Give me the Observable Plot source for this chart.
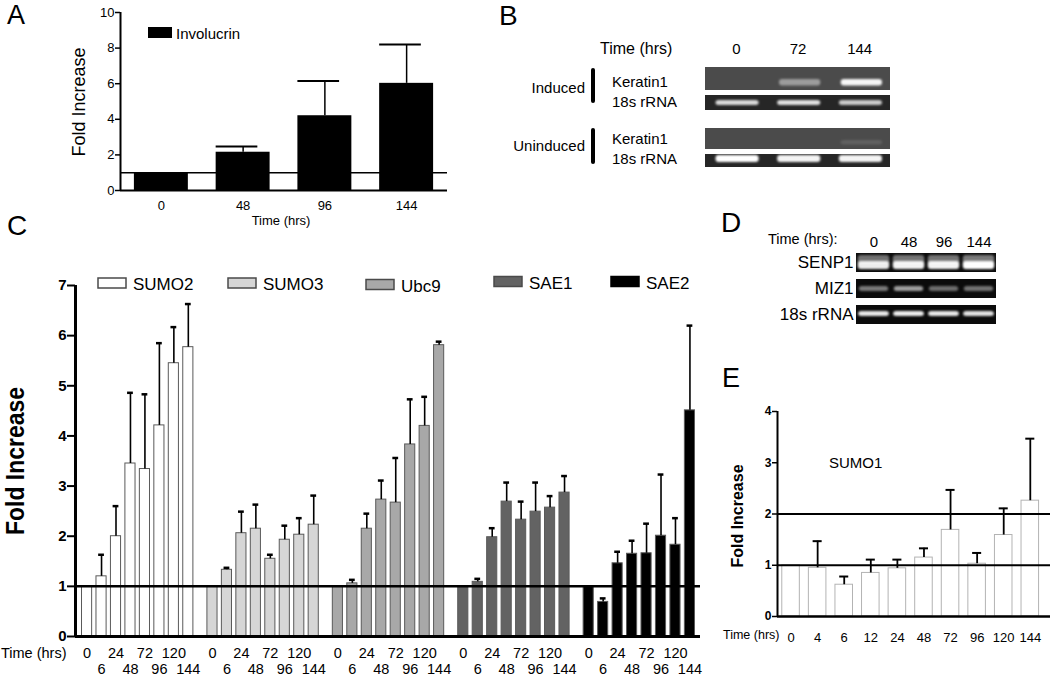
<!DOCTYPE html>
<html>
<head>
<meta charset="utf-8">
<script src="https://cdn.jsdelivr.net/npm/d3@7"></script>
<script src="https://cdn.jsdelivr.net/npm/@observablehq/plot@0.6"></script>
<style>
  body { margin: 0; background: #fff; }
  #page { position: relative; width: 1050px; height: 677px; overflow: hidden; background: #fff;
          font-family: "Liberation Sans", Arial, Helvetica, sans-serif; }
</style>
</head>
<body>
<div id="page"></div>
<script>
// ---------------- Panel A : Involucrin ----------------
const involucrinTimes = ["0", "48", "96", "144"];
const involucrinMean  = [1.0, 2.15, 4.2, 6.02];
const involucrinUpper = [null, 2.47, 6.15, 8.2];

// ---------------- Panel B : RT-PCR gel ----------------
const gelBLanes = ["0", "72", "144"];
const gelBRows = ["Keratin1", "18s rRNA"];
const inducedKeratin1   = [0.0, 0.45, 0.95];
const induced18s        = [0.82, 0.85, 0.75];
const uninducedKeratin1 = [0.0, 0.0, 0.12];
const uninduced18s      = [1.0, 0.95, 0.95];

// ---------------- Panel C : SUMO pathway genes ----------------
const sumoTimes = ["0", "6", "24", "48", "72", "96", "120", "144"];
const sumoGenes = ["SUMO2", "SUMO3", "Ubc9", "SAE1", "SAE2"];
const sumo2Mean  = [1.0, 1.2, 2.0, 3.45, 3.34, 4.21, 5.45, 5.77];
const sumo2Upper = [null, 1.63, 2.6, 4.86, 4.83, 5.85, 6.17, 6.63];
const sumo3Mean  = [1.0, 1.33, 2.06, 2.15, 1.55, 1.93, 2.03, 2.23];
const sumo3Upper = [null, 1.37, 2.49, 2.63, 1.63, 2.21, 2.36, 2.81];
const ubc9Mean   = [1.0, 1.06, 2.15, 2.73, 2.67, 3.83, 4.2, 5.81];
const ubc9Upper  = [null, 1.13, 2.45, 3.11, 3.56, 4.73, 4.78, 5.88];
const sae1Mean   = [1.0, 1.09, 1.98, 2.69, 2.33, 2.49, 2.57, 2.87];
const sae1Upper  = [null, 1.15, 2.16, 3.07, 2.69, 3.07, 2.8, 3.2];
const sae2Mean   = [1.0, 0.69, 1.46, 1.65, 1.66, 2.01, 1.83, 4.51];
const sae2Upper  = [null, 0.76, 1.69, 1.91, 2.25, 3.23, 2.36, 6.2];

// ---------------- Panel D : gel ----------------
const gelDLanes = ["0", "48", "96", "144"];
const gelDRows = ["SENP1", "MIZ1", "18s rRNA"];
const senp1Band = [0.92, 0.95, 0.95, 1.0];
const miz1Band  = [0.45, 0.6, 0.4, 0.42];
const rrnaDBand = [0.9, 0.92, 0.9, 0.88];

// ---------------- Panel E : SUMO1 ----------------
const sumo1Times = ["0", "4", "6", "12", "24", "48", "72", "96", "120", "144"];
const sumo1Mean  = [1.0, 0.95, 0.62, 0.85, 0.94, 1.15, 1.69, 1.03, 1.59, 2.26];
const sumo1Upper = [null, 1.47, 0.78, 1.11, 1.11, 1.33, 2.47, 1.24, 2.11, 3.47];

// ---------------- styling ----------------
const FONT = '"Liberation Sans", Arial, Helvetica, sans-serif';
const cFills = ["#ffffff", "#d6d6d6", "#a8a8a8", "#636363", "#000000"];
const baseStyle = {fontFamily: FONT, background: "transparent", overflow: "visible", color: "black"};
const page = document.getElementById("page");
const intFmt = d => String(d);
function place(svg, left, top) {
  svg.style.position = "absolute";
  svg.style.left = left + "px";
  svg.style.top = top + "px";
  svg.style.maxWidth = "none";
  svg.style.background = "transparent";
  svg.style.overflow = "visible";
  svg.style.fontFamily = FONT;
  page.appendChild(svg);
}

// ================= Panel A =================
const aRows = involucrinTimes.map((t, i) => ({t, i, mean: involucrinMean[i], upper: involucrinUpper[i]}));
const aErr = aRows.filter(d => d.upper != null);
const plotA = Plot.plot({
  width: 460, height: 230, marginLeft: 120, marginRight: 13, marginTop: 12, marginBottom: 40,
  style: baseStyle,
  x: {domain: [-0.5, involucrinTimes.length - 0.5], axis: null},
  y: {domain: [0, 10], axis: null},
  marks: [
    Plot.rect(aRows, {x1: d => d.i - 0.33, x2: d => d.i + 0.33, y1: 0, y2: "mean", fill: "black"}),
    Plot.ruleX(aErr, {x: "i", y1: "mean", y2: "upper", strokeWidth: 1.5}),
    Plot.ruleY(aErr, {x1: d => d.i - 0.33, x2: d => d.i + 0.18, y: "upper", strokeWidth: 2}),
    Plot.ruleY([1], {strokeWidth: 1.5}),
    Plot.ruleY([0], {strokeWidth: 2}),
    Plot.ruleX([-0.5], {y1: 0, y2: 10, strokeWidth: 2}),
    Plot.axisY({ticks: [0, 2, 4, 6, 8, 10], tickFormat: intFmt, label: null, tickSize: 5, tickPadding: 1, fontSize: 13, strokeWidth: 1.5}),
    Plot.axisX({ticks: aRows.map(d => d.i), tickFormat: i => involucrinTimes[i], label: null, tickSize: 0, tickPadding: 10, fontSize: 13})
  ]
});
place(plotA, 0, 0);

// ================= Panel B =================
function gelBData(k, r) {
  return gelBLanes.flatMap((l, li) => [
    {row: gelBRows[0], lane: li, intensity: k[li]},
    {row: gelBRows[1], lane: li, intensity: r[li]}
  ]);
}
function gelBPlot(data, showLanes, h, mt, mb, rInsetTop) {
  const marks = [
    Plot.barX([gelBRows[0]], {x1: 0, x2: gelBLanes.length, y: d => d, fill: "#4b4b4b", insetBottom: -3}),
    Plot.barX([gelBRows[1]], {x1: 0, x2: gelBLanes.length, y: d => d, fill: "#262626", insetTop: 5}),
    Plot.barX(data.filter(d => d.row === gelBRows[0]), {x1: d => d.lane + 0.2, x2: d => d.lane + 0.87, y: "row",
      fill: "white", fillOpacity: "intensity", insetTop: 12, insetBottom: 1.5, rx: 3, ariaDescription: "gel-band"}),
    Plot.barX(data.filter(d => d.row === gelBRows[1]), {x1: d => d.lane + 0.17, x2: d => d.lane + 0.87, y: "row",
      fill: "white", fillOpacity: "intensity", insetTop: rInsetTop, insetBottom: 5, rx: 3, ariaDescription: "gel-band"})
  ];
  if (showLanes) marks.push(Plot.axisX({anchor: "top", ticks: gelBLanes.map((_, i) => i + 0.5),
    tickFormat: v => gelBLanes[Math.floor(v)], label: null, tickSize: 0, tickPadding: 14, fontSize: 15}));
  return Plot.plot({
    width: 340, height: h, marginLeft: 145, marginRight: 10, marginTop: mt, marginBottom: mb,
    style: baseStyle,
    x: {domain: [0, gelBLanes.length], axis: null},
    y: {domain: gelBRows, paddingInner: 0.12, paddingOuter: 0, axis: null},
    opacity: {domain: [0, 1], range: [0, 1]},
    marks
  });
}
place(gelBPlot(gelBData(inducedKeratin1, induced18s), true, 80, 27, 9, 10), 560, 40);
place(gelBPlot(gelBData(uninducedKeratin1, uninduced18s), false, 50, 4, 6, 6), 560, 124);

// ================= Panel C =================
const cMeans = [sumo2Mean, sumo3Mean, ubc9Mean, sae1Mean, sae2Mean];
const cUppers = [sumo2Upper, sumo3Upper, ubc9Upper, sae1Upper, sae2Upper];
const GROUP_STEP = 8.67;
const cRows = sumoGenes.flatMap((g, gi) => sumoTimes.map((t, ti) => ({
  gene: g, time: t, ti, pos: gi * GROUP_STEP + ti, mean: cMeans[gi][ti], upper: cUppers[gi][ti]
})));
const cErr = cRows.filter(d => d.upper != null);
const cLabel = new Map(cRows.map(d => [d.pos, d.time]));
const cMax = (sumoGenes.length - 1) * GROUP_STEP + sumoTimes.length - 1;
const plotC = Plot.plot({
  width: 710, height: 407, marginLeft: 75, marginRight: 10, marginTop: 15, marginBottom: 41,
  style: baseStyle,
  x: {domain: [-0.8, cMax + 0.73], axis: null},
  y: {domain: [0, 7], axis: null},
  color: {domain: sumoGenes, range: cFills},
  marks: [
    Plot.rect(cRows, {x1: d => d.pos - 0.35, x2: d => d.pos + 0.35, y1: 0, y2: "mean", fill: "gene", stroke: "#5a5a5a", strokeWidth: 1}),
    Plot.ruleX(cErr, {x: "pos", y1: "mean", y2: "upper", strokeWidth: 1.6}),
    Plot.ruleY(cErr, {x1: d => d.pos - 0.2, x2: d => d.pos + 0.2, y: "upper", strokeWidth: 2.5}),
    Plot.ruleY([1], {strokeWidth: 2.5}),
    Plot.ruleY([0], {strokeWidth: 3}),
    Plot.ruleX([-0.8], {y1: 0, y2: 7, strokeWidth: 3}),
    Plot.axisY({ticks: d3.range(0, 8), tickFormat: intFmt, label: null, tickSize: 8, tickPadding: 1, fontSize: 15, fontWeight: "bold", strokeWidth: 2}),
    Plot.axisX({ticks: cRows.filter(d => d.ti % 2 === 0).map(d => d.pos), tickFormat: p => cLabel.get(p), label: null,
      tickSize: 0, tickPadding: 11.5, fontSize: 14.5}),
    Plot.axisX({ticks: cRows.filter(d => d.ti % 2 === 1).map(d => d.pos), tickFormat: p => cLabel.get(p), label: null,
      tickSize: 0, tickPadding: 27.5, fontSize: 14.5})
  ]
});
place(plotC, 0, 270);

// ================= Panel D =================
const dBands = [senp1Band, miz1Band, rrnaDBand];
const dData = gelDRows.flatMap((r, ri) => gelDLanes.map((l, li) => ({row: r, lane: li, intensity: dBands[ri][li]})));
const plotD = Plot.plot({
  width: 266, height: 102, marginLeft: 116, marginRight: 10, marginTop: 25, marginBottom: 5,
  style: baseStyle,
  x: {domain: [0, gelDLanes.length], axis: null},
  y: {domain: gelDRows, paddingInner: 0.26, paddingOuter: 0, axis: null},
  opacity: {domain: [0, 1], range: [0, 1]},
  marks: [
    Plot.barX(gelDRows, {x1: 0, x2: gelDLanes.length, y: d => d, fill: "#0b0b0b"}),
    Plot.barX(dData.filter(d => d.row === "SENP1"), {x1: d => d.lane + 0.05, x2: d => d.lane + 0.95, y: "row",
      fill: "white", fillOpacity: d => d.intensity * 0.45, insetTop: 2, insetBottom: 8, rx: 3, ariaDescription: "gel-band"}),
    Plot.barX(dData.filter(d => d.row === "SENP1"), {x1: d => d.lane + 0.05, x2: d => d.lane + 0.95, y: "row",
      fill: "white", fillOpacity: "intensity", insetTop: 8, insetBottom: 3, rx: 3, ariaDescription: "gel-band"}),
    Plot.barX(dData.filter(d => d.row === "MIZ1"), {x1: d => d.lane + 0.08, x2: d => d.lane + 0.92, y: "row",
      fill: "white", fillOpacity: "intensity", insetTop: 7, insetBottom: 7, rx: 3, ariaDescription: "gel-band"}),
    Plot.barX(dData.filter(d => d.row === "18s rRNA"), {x1: d => d.lane + 0.06, x2: d => d.lane + 0.94, y: "row",
      fill: "white", fillOpacity: "intensity", insetTop: 6, insetBottom: 8, rx: 3, ariaDescription: "gel-band"}),
    Plot.axisX({anchor: "top", ticks: gelDLanes.map((_, i) => i + 0.5), tickFormat: v => gelDLanes[Math.floor(v)], label: null,
      tickSize: 0, tickPadding: 7, fontSize: 15}),
    Plot.axisY({anchor: "left", label: null, tickSize: 0, tickPadding: 3, fontSize: 17})
  ]
});
place(plotD, 740, 228);

// ================= Panel E =================
const eRows = sumo1Times.map((t, i) => ({t, i, mean: sumo1Mean[i], upper: sumo1Upper[i]}));
const eErr = eRows.filter(d => d.upper != null);
const plotE = Plot.plot({
  width: 350, height: 282, marginLeft: 77, marginRight: 0, marginTop: 16, marginBottom: 61,
  style: baseStyle,
  x: {domain: [-0.51, sumo1Times.length - 0.24], axis: null},
  y: {domain: [0, 4], axis: null},
  marks: [
    Plot.rect(eRows, {x1: d => d.i - 0.33, x2: d => d.i + 0.33, y1: 0, y2: "mean", fill: "white", stroke: "#b3b3b3", strokeWidth: 1}),
    Plot.ruleX(eErr, {x: "i", y1: "mean", y2: "upper", strokeWidth: 1.8}),
    Plot.ruleY(eErr, {x1: d => d.i - 0.17, x2: d => d.i + 0.17, y: "upper", strokeWidth: 2}),
    Plot.ruleY([1, 2], {strokeWidth: 2}),
    Plot.ruleY([0], {strokeWidth: 2.5}),
    Plot.ruleX([-0.51], {y1: 0, y2: 4, strokeWidth: 2}),
    Plot.axisY({ticks: [0, 1, 2, 3, 4], tickFormat: intFmt, label: null, tickSize: 5, tickPadding: 1, fontSize: 12, fontWeight: "bold", strokeWidth: 1.5}),
    Plot.axisX({ticks: eRows.map(d => d.i), tickFormat: i => sumo1Times[i], label: null, tickSize: 0, tickPadding: 16.5, fontSize: 13})
  ]
});
place(plotE, 700, 395);

// ================= Annotation overlay =================
const ov = d3.create("svg")
  .attr("width", 1050).attr("height", 677)
  .style("position", "absolute").style("left", "0px").style("top", "0px")
  .style("font-family", FONT).style("overflow", "visible").style("pointer-events", "none");
const f = ov.append("defs").append("filter").attr("id", "gelBlur")
  .attr("x", "-30%").attr("y", "-80%").attr("width", "160%").attr("height", "260%");
f.append("feGaussianBlur").attr("stdDeviation", 1.3);

function T(s, x, y, o = {}) {
  const t = ov.append("text").attr("x", x).attr("y", y).text(s)
    .attr("font-size", o.size || 14).attr("font-weight", o.weight || "normal")
    .attr("text-anchor", o.anchor || "start").attr("fill", "black");
  if (o.len) t.attr("textLength", o.len).attr("lengthAdjust", "spacingAndGlyphs");
  if (o.rotate) t.attr("transform", `rotate(-90 ${x} ${y})`).attr("text-anchor", "middle");
  return t;
}
// panel letters
T("A", 7, 23.5, {size: 27});
T("B", 499, 25, {size: 28});
T("C", 7, 235, {size: 28});
T("D", 721, 232, {size: 28});
T("E", 722, 387, {size: 27});

// Panel A annotations
T("Fold Increase", 85, 102, {size: 18, rotate: true});
ov.append("rect").attr("x", 148).attr("y", 27).attr("width", 24).attr("height", 11).attr("fill", "black");
T("Involucrin", 176, 39, {size: 15});
T("Time (hrs)", 281, 225, {size: 13, anchor: "middle"});

// Panel B annotations
T("Time (hrs)", 600, 53.5, {size: 16});
T("Induced", 585, 93, {size: 15, anchor: "end"});
T("Uninduced", 585, 150.5, {size: 15, anchor: "end"});
ov.append("rect").attr("x", 591).attr("y", 68).attr("width", 4).attr("height", 35).attr("rx", 2).attr("fill", "black");
ov.append("rect").attr("x", 591).attr("y", 128).attr("width", 4).attr("height", 36).attr("rx", 2).attr("fill", "black");
T(gelBRows[0], 612, 87, {size: 15});
T(gelBRows[1], 612, 106.5, {size: 15});
T(gelBRows[0], 612, 144, {size: 15});
T(gelBRows[1], 612, 164, {size: 15});

// Panel C annotations
T("Fold Increase", 24, 461, {size: 26, weight: "bold", rotate: true, len: 148});
T("Time (hrs)", 1, 658, {size: 14.5});
const legendX = [98, 228, 366, 494, 611];
const legendY = [290, 290, 291.5, 288.5, 288.5];
sumoGenes.forEach((g, i) => {
  ov.append("rect").attr("x", legendX[i]).attr("y", legendY[i] - 12).attr("width", 28).attr("height", 10)
    .attr("fill", cFills[i]).attr("stroke", i === 4 ? "black" : "#4a4a4a").attr("stroke-width", 1.5);
  T(g, legendX[i] + 35, legendY[i], {size: 17});
});

// Panel D annotations
T("Time (hrs):", 768, 244, {size: 14.5});

// Panel E annotations
T("SUMO1", 829, 468, {size: 15});
T("Fold Increase", 743, 516, {size: 16, weight: "bold", rotate: true});
T("Time (hrs)", 723, 639, {size: 12.5});

page.appendChild(ov.node());
d3.selectAll('g[aria-description="gel-band"]').attr("filter", "url(#gelBlur)");
</script>
</body>
</html>
